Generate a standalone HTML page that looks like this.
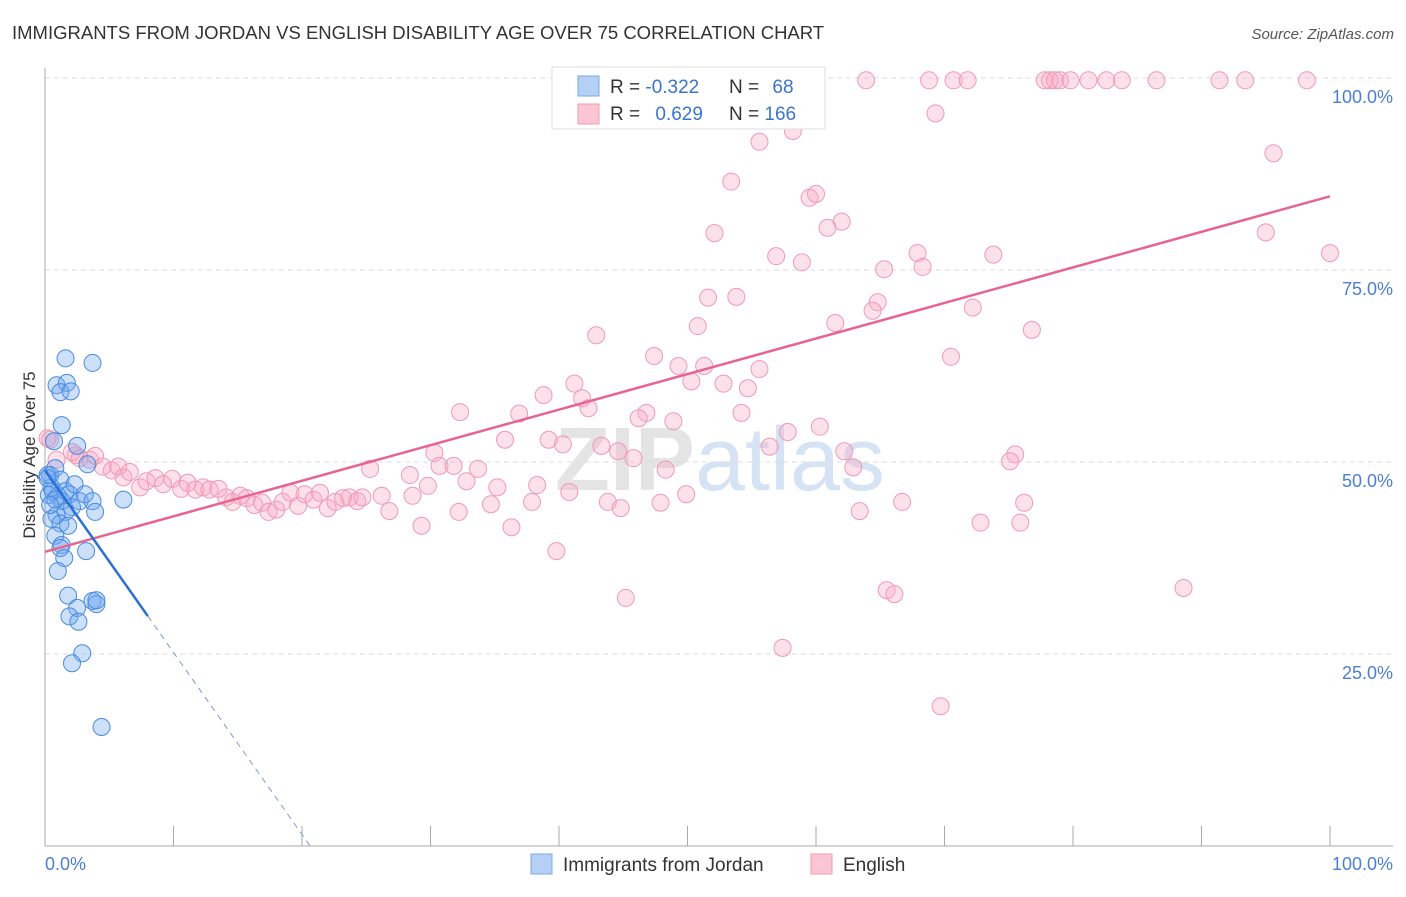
<!DOCTYPE html>
<html><head><meta charset="utf-8"><style>
body{margin:0;background:#fff;font-family:"Liberation Sans",sans-serif}
svg text{font-family:"Liberation Sans",sans-serif}
</style></head><body>
<svg id="chart" width="1406" height="892" xmlns="http://www.w3.org/2000/svg">
<text x="12" y="39" font-size="18.5" fill="#333">IMMIGRANTS FROM JORDAN VS ENGLISH DISABILITY AGE OVER 75 CORRELATION CHART</text>
<text x="1394" y="39" font-size="15" fill="#555" text-anchor="end" font-style="italic">Source: ZipAtlas.com</text>
<text x="720" y="490" font-size="90" fill="#e4e4e4" text-anchor="middle" font-weight="bold">ZIP<tspan fill="#d6e3f5" font-weight="normal">atlas</tspan></text>
<g id="grid"></g>
<line x1="45" y1="68" x2="45" y2="846" stroke="#aaa"/>
<line x1="45" y1="846" x2="1393" y2="846" stroke="#aaa"/>
<g id="xticks"></g>
<text x="35" y="455" font-size="17" fill="#333" text-anchor="middle" transform="rotate(-90 35 455)">Disability Age Over 75</text>
<text x="45" y="870" font-size="18" fill="#4a7fd4">0.0%</text>
<text x="1393" y="870" font-size="18" fill="#4a7fd4" text-anchor="end">100.0%</text>
<g id="pts"></g>
<g id="lines"></g>
<g>
<rect x="552" y="67" width="273" height="62" fill="#fff" stroke="#ddd"/>
<rect x="578" y="76" width="21" height="20" fill="#b5d0f5" stroke="#7aa8e8"/>
<rect x="578" y="104" width="21" height="20" fill="#fbc5d4" stroke="#f09ab5"/>
<text x="610" y="93" font-size="19" fill="#333">R = <tspan fill="#3a74d0">-0.322</tspan></text>
<text x="729" y="93" font-size="19" fill="#333">N = <tspan fill="#3a74d0" dx="8">68</tspan></text>
<text x="610" y="120" font-size="19" fill="#333">R = <tspan fill="#3a74d0" dx="10">0.629</tspan></text>
<text x="729" y="120" font-size="19" fill="#333">N = <tspan fill="#3a74d0">166</tspan></text>
</g>
<g>
<rect x="531" y="854" width="21" height="20" fill="#b5d0f5" stroke="#7aa8e8"/>
<text x="563" y="871" font-size="19" fill="#333">Immigrants from Jordan</text>
<rect x="811" y="854" width="21" height="20" fill="#fbc5d4" stroke="#f09ab5"/>
<text x="843" y="871" font-size="19" fill="#333">English</text>
</g>
</svg>
<script>
const yTicks=[25,50,75,100];
const yTickLabels=["25.0%","50.0%","75.0%","100.0%"];
const xTicks=[0,10,20,30,40,50,60,70,80,90,100];
const blueX=[1.6,3.7,0.9,1.7,1.2,2.0,1.3,0.7,2.5,3.3,0.4,0.8,1.2,0.5,0.2,0.6,1.0,1.6,1.9,1.3,2.3,2.7,3.1,3.7,3.9,2.1,1.6,0.9,0.5,1.2,1.8,6.1,0.8,1.3,1.2,1.5,3.2,1.0,1.8,3.7,4.0,4.0,2.5,1.9,2.6,2.9,2.1,4.4,0.2,0.3,0.8,0.4];
const blueY=[63.5,62.9,60.0,60.3,59.1,59.2,54.8,52.7,52.1,49.7,48.3,49.2,47.7,46.7,48.3,46.2,45.6,46.2,45.8,44.9,47.1,44.9,45.8,44.9,43.5,44.1,43.5,43.1,42.6,42.0,41.7,45.1,40.4,39.2,38.8,37.5,38.4,35.8,32.6,31.9,31.5,32.0,31.0,29.9,29.2,25.1,23.8,15.5,47.9,45.7,45.1,44.4];
const pinkX=[63.9,68.8,70.7,71.8,77.8,78.2,78.6,79.0,79.8,81.2,82.6,83.8,86.5,91.4,93.4,98.2,69.3,55.6,58.2,95.6,53.4,59.5,60.0,62.0,60.9,52.1,95.0,56.9,58.9,73.8,67.9,68.3,65.3,100,51.6,53.8,64.8,64.4,72.2,50.8,61.5,76.8,42.9,47.4,70.5,49.3,51.3,55.6,41.2,50.3,52.8,54.7,38.8,41.8,42.3,32.3,36.9,46.8,46.2,54.2,48.9,60.3,57.8,35.8,39.2,40.3,56.4,43.3,44.6,30.3,62.2,45.8,75.5,75.1,62.9,30.7,31.8,33.7,28.4,25.3,32.8,48.3,35.2,38.3,29.8,40.8,49.9,43.8,47.9,37.9,44.8,34.7,32.2,36.3,29.3,26.8,28.6,26.2,63.4,66.7,76.2,75.9,72.8,39.8,45.2,65.5,66.1,88.6,57.4,69.7,
0.2,0.4,0.9,2.4,2.1,2.7,3.5,3.9,4.5,5.2,5.7,6.1,6.6,7.4,7.9,8.6,9.2,9.9,10.6,11.1,11.7,12.3,12.8,13.5,14.1,14.6,15.2,15.7,16.3,16.9,17.4,18.0,18.5,19.1,19.7,20.2,20.9,21.4,22.0,22.6,23.2,23.7,24.3,24.7];
const pinkY=[99.7,99.7,99.7,99.7,99.7,99.7,99.7,99.7,99.7,99.7,99.7,99.7,99.7,99.7,99.7,99.7,95.4,91.7,93.1,90.2,86.5,84.4,84.9,81.3,80.5,79.8,79.9,76.8,76.0,77.0,77.2,75.4,75.1,77.2,71.4,71.5,70.8,69.7,70.1,67.7,68.1,67.2,66.5,63.8,63.7,62.5,62.5,62.1,60.2,60.5,60.2,59.6,58.7,58.3,57.0,56.5,56.3,56.4,55.7,56.4,55.3,54.6,53.9,52.9,52.9,52.3,52.0,52.1,51.4,51.2,51.4,50.5,51.0,50.1,49.3,49.5,49.5,49.1,48.3,49.1,47.5,49.0,46.7,47.0,46.9,46.1,45.8,44.8,44.7,44.8,44.0,44.5,43.5,41.5,41.7,43.6,45.6,45.6,43.6,44.8,44.7,42.1,42.1,38.4,32.3,33.3,32.8,33.6,25.8,18.2,
53.1,52.9,50.3,50.9,51.3,50.5,50.3,50.8,49.4,48.9,49.4,48.0,48.7,46.7,47.5,47.9,47.1,47.8,46.5,47.3,46.4,46.7,46.4,46.5,45.4,44.8,45.6,45.3,44.4,44.7,43.5,43.8,44.8,46.0,44.3,45.8,45.1,46.0,44.0,44.8,45.3,45.4,44.9,45.4];
const pinkTrend=[38.3,84.6];   // y at x=0 and x=100
const blueTrend=[48.9,-2.37];  // intercept, slope
const NS="http://www.w3.org/2000/svg";
const xs=v=>45+v*12.85, ys=v=>846-v*7.68;
function mk(t,a,p){const e=document.createElementNS(NS,t);for(const k in a)e.setAttribute(k,a[k]);p.appendChild(e);return e;}
const grid=document.getElementById('grid');
yTicks.forEach((t,i)=>{
  const l=mk('line',{x1:45,x2:1393,y1:ys(t),y2:ys(t),stroke:'#ddd','stroke-dasharray':'5,4'},grid);
  
  
  const tx=mk('text',{x:1393,y:ys(t)+25,'font-size':18,fill:'#4a7fd4','text-anchor':'end'},grid);
  tx.textContent=yTickLabels[i];
  
  
});
const xt=document.getElementById('xticks');
xTicks.forEach(t=>{
  const l=mk('line',{x1:xs(t),x2:xs(t),y1:826,y2:846,stroke:'#aaa'},xt);
  
  
});
const pts=document.getElementById('pts');
pinkX.forEach((x,i)=>{
  const c=mk('circle',{cx:xs(x),cy:ys(pinkY[i]),r:8.5,fill:'rgba(248,170,195,0.35)',stroke:'#ef9ab5','stroke-width':1},pts);
  
  
});
blueX.forEach((x,i)=>{
  const c=mk('circle',{cx:xs(x),cy:ys(blueY[i]),r:8.5,fill:'rgba(110,165,240,0.35)',stroke:'#4a8ae0','stroke-width':1},pts);
  
  
});
const ln=document.getElementById('lines');
const pl=mk('line',{x1:xs(0),y1:ys(pinkTrend[0]),x2:xs(100),y2:ys(pinkTrend[1]),stroke:'#e8648f','stroke-width':2.5},ln);


const bEnd=8, bZero=-blueTrend[0]/blueTrend[1];
const bl=mk('line',{x1:xs(0),y1:ys(blueTrend[0]),x2:xs(bEnd),y2:ys(blueTrend[0]+blueTrend[1]*bEnd),stroke:'#2a6fd6','stroke-width':2.5},ln);


const bd=mk('line',{x1:xs(bEnd),y1:ys(blueTrend[0]+blueTrend[1]*bEnd),x2:xs(bZero),y2:ys(0),stroke:'#7a9ad0','stroke-width':1,'stroke-dasharray':'6,5'},ln);


</script>
</body></html>
